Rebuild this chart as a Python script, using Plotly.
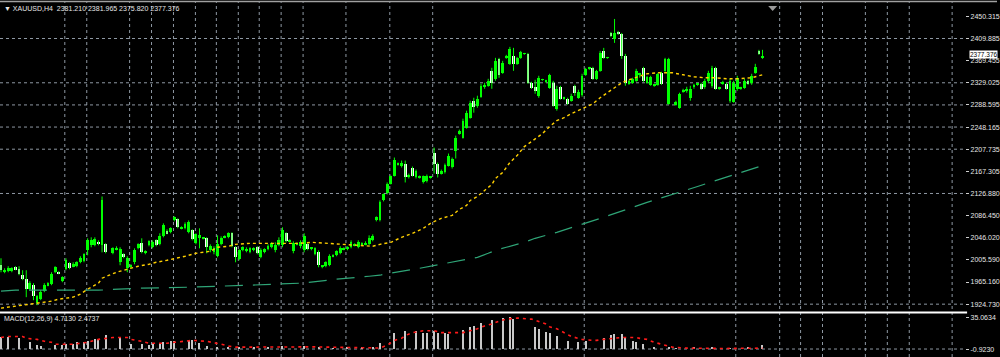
import plotly.graph_objects as go

# ---------------- data ----------------
bar_idx = [i for i in range(212) if i not in (30, 186)]

open_ = [1995.8, 1983.0, 1984.8, 1984.8, 1992.1, 1988.5, 1977.6, 1970.3, 1952.1, 1959.4,
         1926.6, 1933.9, 1948.4, 1959.4, 1961.2, 1983.0, 1983.0, 1966.6, 1988.5, 1999.4,
         1994.0, 1994.0, 2001.2, 2003.1, 2023.1, 2032.2, 2032.2, 2037.7, 2032.2, 2034.0,
         2017.6, 2024.9, 2001.2, 2015.8, 1990.3, 1994.0, 2001.2, 2026.7, 2035.8, 2017.6,
         2032.2, 2028.6, 2041.3, 2034.0, 2048.6, 2057.7, 2055.9, 2077.7, 2079.6, 2063.2,
         2063.2, 2055.9, 2059.5, 2035.8, 2045.0, 2045.0, 2045.0, 2023.1, 2019.4, 2012.2,
         2034.0, 2046.8, 2046.8, 2054.1, 2028.6, 2006.7, 2023.1, 2023.1, 2019.4, 2024.9,
         2028.6, 2010.3, 2019.4, 2024.9, 2028.6, 2023.1, 2032.2, 2032.2, 2054.1, 2039.5,
         2021.3, 2034.0, 2030.4, 2023.1, 2034.0, 2026.7, 2015.8, 2019.4, 1994.0, 1994.0,
         1995.8, 2012.2, 2014.0, 2017.6, 2024.9, 2024.9, 2028.6, 2032.2, 2028.6, 2034.0,
         2034.0, 2034.0, 2041.3, 2077.7, 2077.7, 2114.2, 2126.9, 2145.1, 2159.7, 2179.7,
         2177.9, 2181.5, 2157.9, 2174.3, 2156.1, 2156.1, 2147.0, 2148.8, 2156.1, 2201.6,
         2181.5, 2163.3, 2165.2, 2177.9, 2176.1, 2205.2, 2236.2, 2228.9, 2247.1, 2265.3,
         2296.3, 2287.2, 2303.6, 2321.8, 2323.6, 2350.9, 2336.3, 2372.8, 2347.3, 2374.6,
         2363.7, 2378.2, 2363.7, 2374.6, 2381.9, 2381.9, 2329.1, 2321.8, 2305.4, 2334.5,
         2330.9, 2320.0, 2329.1, 2281.7, 2321.8, 2299.9, 2299.9, 2296.3, 2323.6, 2301.7,
         2307.2, 2343.6, 2354.6, 2356.4, 2336.3, 2350.9, 2387.3, 2374.6, 2420.1, 2409.2,
         2421.9, 2418.3, 2378.2, 2327.2, 2329.1, 2332.7, 2343.6, 2356.4, 2329.1, 2325.4,
         2323.6, 2325.4, 2347.3, 2350.9, 2290.8,
         2289.0, 2283.5, 2312.7, 2314.5, 2301.7, 2321.8, 2325.4, 2327.2, 2321.8, 2332.7,
         2323.6, 2356.4, 2318.1, 2327.2, 2327.2, 2296.3, 2294.5, 2318.1, 2318.1, 2320.0,
         2332.7, 2329.1, 2347.3, 2387.3, 2374.6]

high_ = [2008.5, 1990.3, 1994.0, 1992.1, 1994.0, 1994.0, 1986.7, 1986.7, 1966.6, 1963.0,
         1941.1, 1950.2, 1963.0, 1964.8, 1983.0, 1994.0, 1984.8, 1975.7, 2008.5, 2001.2,
         2001.2, 2003.1, 2012.2, 2017.6, 2045.0, 2046.8, 2046.8, 2041.3, 2121.4, 2035.8,
         2028.6, 2030.4, 2028.6, 2017.6, 2012.2, 1997.6, 2026.7, 2035.8, 2045.0, 2023.1,
         2041.3, 2041.3, 2043.1, 2054.1, 2072.3, 2061.4, 2065.0, 2085.0, 2081.4, 2066.8,
         2074.1, 2077.7, 2061.4, 2054.1, 2063.2, 2046.8, 2046.8, 2034.0, 2030.4, 2050.4,
         2048.6, 2050.4, 2055.9, 2055.9, 2030.4, 2024.9, 2030.4, 2028.6, 2028.6, 2028.6,
         2030.4, 2026.7, 2026.7, 2034.0, 2037.7, 2037.7, 2046.8, 2065.0, 2055.9, 2043.1,
         2039.5, 2037.7, 2041.3, 2054.1, 2035.8, 2028.6, 2028.6, 2023.1, 1995.8, 2003.1,
         2015.8, 2015.8, 2023.1, 2030.4, 2028.6, 2030.4, 2041.3, 2035.8, 2041.3, 2037.7,
         2039.5, 2050.4, 2052.3, 2085.0, 2114.2, 2126.9, 2147.0, 2159.7, 2192.5, 2183.4,
         2187.0, 2187.0, 2163.3, 2176.1, 2170.6, 2159.7, 2159.7, 2161.5, 2157.9, 2210.7,
         2183.4, 2170.6, 2181.5, 2199.8, 2192.5, 2232.5, 2243.5, 2263.5, 2278.1, 2296.3,
         2301.7, 2305.4, 2327.2, 2329.1, 2336.3, 2356.4, 2374.6, 2374.6, 2369.1, 2380.1,
         2394.6, 2392.8, 2376.4, 2387.3, 2383.7, 2383.7, 2330.9, 2334.5, 2341.8, 2336.3,
         2334.5, 2345.5, 2332.7, 2323.6, 2323.6, 2303.6, 2301.7, 2309.0, 2325.4, 2316.3,
         2345.5, 2356.4, 2358.2, 2358.2, 2352.7, 2387.3, 2392.8, 2376.4, 2421.9, 2445.6,
         2423.8, 2420.1, 2381.9, 2334.5, 2338.2, 2354.6, 2347.3, 2358.2, 2341.8, 2341.8,
         2327.2, 2347.3, 2349.1, 2374.6, 2374.6,
         2296.3, 2310.9, 2318.1, 2321.8, 2323.6, 2327.2, 2329.1, 2329.1, 2336.3, 2350.9,
         2360.0, 2358.2, 2321.8, 2332.7, 2329.1, 2336.3, 2332.7, 2341.8, 2321.8, 2336.3,
         2334.5, 2345.5, 2363.7, 2389.2, 2389.2]

low_ = [1983.0, 1981.2, 1983.0, 1983.0, 1986.7, 1977.6, 1968.5, 1937.5, 1950.2, 1932.0,
        1922.9, 1932.0, 1946.6, 1957.5, 1959.4, 1981.2, 1979.4, 1964.8, 1986.7, 1988.5,
        1992.1, 1992.1, 1999.4, 2001.2, 2014.0, 2028.6, 2030.4, 2032.2, 2019.4, 2017.6,
        2015.8, 2023.1, 1995.8, 2008.5, 1983.0, 1990.3, 1997.6, 2024.9, 2017.6, 2015.8,
        2030.4, 2026.7, 2030.4, 2032.2, 2046.8, 2052.3, 2054.1, 2075.9, 2063.2, 2061.4,
        2061.4, 2054.1, 2041.3, 2034.0, 2026.7, 2043.1, 2017.6, 2019.4, 2015.8, 2010.3,
        2032.2, 2045.0, 2045.0, 2028.6, 2001.2, 2004.9, 2021.3, 2019.4, 2017.6, 2021.3,
        2015.8, 2008.5, 2017.6, 2023.1, 2026.7, 2019.4, 2030.4, 2028.6, 2037.7, 2037.7,
        2017.6, 2032.2, 2026.7, 2019.4, 2023.1, 2023.1, 2014.0, 1992.1, 1990.3, 1992.1,
        1994.0, 2010.3, 2012.2, 2015.8, 2023.1, 2023.1, 2026.7, 2030.4, 2026.7, 2032.2,
        2032.2, 2032.2, 2039.5, 2075.9, 2075.9, 2112.4, 2125.1, 2143.3, 2157.9, 2177.9,
        2174.3, 2147.0, 2154.2, 2157.9, 2154.2, 2154.2, 2145.1, 2147.0, 2154.2, 2163.3,
        2156.1, 2161.5, 2163.3, 2176.1, 2172.4, 2190.7, 2234.4, 2227.1, 2245.3, 2263.5,
        2274.4, 2283.5, 2301.7, 2318.1, 2321.8, 2318.1, 2332.7, 2338.2, 2345.5, 2372.8,
        2361.8, 2350.9, 2361.8, 2372.8, 2380.1, 2327.2, 2318.1, 2309.0, 2301.7, 2332.7,
        2329.1, 2318.1, 2285.4, 2278.1, 2298.1, 2298.1, 2289.0, 2294.5, 2305.4, 2299.9,
        2303.6, 2341.8, 2352.7, 2334.5, 2334.5, 2349.1, 2372.8, 2372.8, 2412.8, 2401.9,
        2416.5, 2372.8, 2323.6, 2325.4, 2327.2, 2330.9, 2338.2, 2330.9, 2327.2, 2323.6,
        2321.8, 2323.6, 2325.4, 2349.1, 2289.0,
        2287.2, 2281.7, 2310.9, 2310.9, 2296.3, 2318.1, 2323.6, 2316.3, 2318.1, 2329.1,
        2320.0, 2316.3, 2316.3, 2325.4, 2316.3, 2292.6, 2292.6, 2314.5, 2316.3, 2318.1,
        2325.4, 2325.4, 2345.5, 2380.1, 2372.8]

close_ = [1986.7, 1986.7, 1990.3, 1990.3, 1988.5, 1979.4, 1970.3, 1952.1, 1963.0, 1939.3,
          1939.3, 1946.6, 1959.4, 1963.0, 1979.4, 1992.1, 1981.2, 1973.9, 2004.9, 1990.3,
          1997.6, 2001.2, 2008.5, 2015.8, 2041.3, 2041.3, 2043.1, 2035.8, 2114.2, 2019.4,
          2026.7, 2026.7, 2024.9, 2012.2, 2008.5, 1995.8, 2023.1, 2034.0, 2019.4, 2021.3,
          2039.5, 2037.7, 2032.2, 2048.6, 2068.6, 2054.1, 2063.2, 2083.2, 2065.0, 2065.0,
          2070.5, 2074.1, 2043.1, 2052.3, 2050.4, 2045.4, 2028.6, 2030.4, 2026.7, 2034.0,
          2045.0, 2048.6, 2054.1, 2030.4, 2010.3, 2023.1, 2028.6, 2024.9, 2026.7, 2026.7,
          2017.6, 2023.1, 2024.9, 2030.4, 2035.8, 2032.2, 2041.3, 2059.5, 2039.5, 2041.3,
          2035.8, 2035.8, 2037.7, 2048.6, 2024.9, 2027.1, 2026.7, 1995.8, 1994.4, 2001.2,
          2012.2, 2014.0, 2021.3, 2026.7, 2026.7, 2028.6, 2037.7, 2034.0, 2037.7, 2035.8,
          2035.8, 2045.0, 2048.6, 2083.2, 2110.5, 2125.1, 2145.1, 2157.9, 2188.8, 2181.5,
          2183.4, 2156.1, 2159.7, 2159.7, 2168.8, 2157.9, 2157.9, 2159.7, 2156.5, 2181.5,
          2163.3, 2168.8, 2179.7, 2196.1, 2190.7, 2228.9, 2241.6, 2259.9, 2274.4, 2292.6,
          2285.4, 2299.9, 2323.6, 2325.4, 2332.7, 2329.1, 2369.1, 2343.6, 2365.5, 2378.2,
          2391.0, 2363.7, 2374.6, 2385.5, 2382.3, 2329.1, 2320.0, 2314.5, 2338.2, 2334.9,
          2332.7, 2343.6, 2287.2, 2318.1, 2299.9, 2301.7, 2290.8, 2305.4, 2310.9, 2312.7,
          2341.8, 2354.6, 2356.4, 2336.3, 2350.9, 2383.7, 2374.6, 2375.0, 2414.7, 2420.1,
          2418.3, 2378.2, 2329.1, 2332.7, 2336.3, 2350.9, 2345.5, 2332.7, 2340.0, 2340.0,
          2325.4, 2345.5, 2327.2, 2372.8, 2372.8,
          2294.5, 2309.0, 2316.3, 2318.1, 2318.1, 2323.6, 2327.2, 2318.1, 2332.7, 2347.3,
          2356.4, 2318.1, 2320.0, 2330.9, 2318.1, 2332.7, 2329.1, 2338.2, 2320.0, 2332.7,
          2327.2, 2341.8, 2358.2, 2381.9, 2377.4]

fast_idx = [0, 4, 7, 9, 11, 14, 16, 20, 22, 24, 27, 28, 30, 32, 35, 38, 41, 43, 46, 49,
            51, 54, 58, 60, 63, 65, 69, 74, 83, 86, 90, 96, 98, 103, 105, 108, 111, 114, 117, 119,
            122, 125, 127, 129, 130, 132, 134, 136, 137, 139, 140, 141, 143, 145, 147, 150, 152, 154, 156, 158,
            161, 164, 166, 168, 170, 172, 174, 177, 179, 182, 186, 189, 192, 195, 198, 201, 204, 208, 211]
fast_ma = [1917.5, 1921.1, 1924.8, 1926.6, 1928.4, 1930.2, 1933.9, 1937.5, 1943.0, 1952.1,
           1963.0, 1972.1, 1977.6, 1983.0, 1988.5, 1994.0, 1997.6, 2001.2, 2004.9, 2008.5,
           2012.2, 2017.6, 2021.3, 2028.6, 2030.4, 2034.0, 2035.8, 2035.8, 2035.8, 2037.7,
           2035.8, 2034.0, 2032.2, 2030.4, 2034.0, 2037.7, 2046.8, 2054.1, 2063.2, 2072.3,
           2081.4, 2086.9, 2097.8, 2105.0, 2114.2, 2121.4, 2132.4, 2143.3, 2154.2, 2165.2,
           2174.3, 2183.4, 2196.1, 2212.5, 2221.6, 2236.2, 2248.9, 2259.9, 2265.3, 2272.6,
           2281.7, 2290.8, 2301.7, 2310.9, 2320.0, 2329.1, 2334.5, 2341.8, 2345.5, 2347.3,
           2347.3, 2343.6, 2340.0, 2338.2, 2338.2, 2336.3, 2336.3, 2338.2, 2343.6]

slow_idx = [0, 4, 11, 16, 27, 38, 52, 69, 83, 93, 97, 101, 102, 105, 106, 116, 130, 132, 135, 137,
            140, 143, 145, 148, 151, 154, 166, 179, 193, 211]
slow_ma = [1948.4, 1950.2, 1950.2, 1950.2, 1950.2, 1953.9, 1955.7, 1959.4, 1963.0, 1970.3,
           1972.1, 1973.9, 1975.7, 1977.6, 1979.4, 1990.3, 2006.7, 2010.3, 2017.6, 2023.1,
           2028.6, 2034.0, 2037.7, 2045.0, 2050.4, 2055.9, 2081.4, 2110.5, 2139.7, 2177.9]

macd_idx = [0, 2, 5, 8, 10, 11, 15, 17, 18, 20, 21, 23, 24, 26, 27, 29, 33, 36, 39, 41,
            42, 44, 45, 47, 48, 52, 53, 55, 57, 60, 63,
            66, 70, 74, 78, 84, 88, 92, 96, 100, 103,
            105, 109, 112, 115, 117, 118, 120, 121, 123, 124, 128, 130, 131, 133, 136, 139, 141, 142, 148, 149,
            151, 152, 154, 157, 160, 162, 167, 169, 170, 172, 173, 175, 176, 178, 181, 185,
            187, 192, 197, 202, 207, 211]
macd_hist = [12.7, 12.7, 11.7, 7.4, 4.2, 3.2, 4.2, 4.2, 5.3, 5.3, 7.4, 7.4, 8.5, 10.6, 10.6, 14.8, 11.7, 5.3, 5.3, 4.2,
             6.4, 6.4, 7.4, 8.5, 8.5, 9.5, 9.5, 6.4, 3.2, 2.1, 2.1,
             2.5, 1.5, 2.0, 3.5, 3.0, 1.0, 0.8, 1.5, 2.0, 2.5,
             6.4, 17.0, 20.1, 20.1, 18.0, 18.0, 20.1, 18.0, 17.0, 15.9, 21.2, 24.4, 25.4, 28.6, 31.8, 33.9, 35.0, 32.9, 24.4, 22.3,
             19.1, 17.0, 13.8, 8.5, 7.4, 8.5, 11.7, 14.8, 15.9, 15.9, 12.7, 8.5, 7.4, 5.3, 2.1, 1.1,
             0.5, 1.0, 1.5, 0.8, 1.8, 4.2]

sig_idx = [0, 2, 6, 7, 10, 12, 14, 15, 20, 23, 24, 27, 31, 35, 36, 39, 41, 42, 46, 48,
           51, 53, 57, 60, 61, 63, 65, 67, 70, 78, 86, 94, 100, 105, 107, 109, 111, 112, 114, 117,
           120, 122, 125, 128, 130, 132, 134, 136, 138, 140, 143, 144, 146, 147, 151, 152, 154, 155, 157, 158,
           160, 161, 164, 165, 167, 170, 172, 176, 177, 179, 181, 183, 186, 190, 200, 211]
macd_signal = [12.7, 13.8, 13.8, 11.7, 10.6, 8.5, 7.4, 5.3, 5.3, 6.4, 7.4, 10.6, 12.7, 12.7, 10.6, 8.5, 6.4, 6.4, 6.4, 7.4,
               8.5, 9.5, 8.5, 6.4, 5.3, 3.2, 2.1, 2.1, 2.0, 2.2, 2.4, 1.8, 1.5, 1.1, 4.2, 9.5, 11.7, 14.8, 18.0, 20.1,
               20.1, 18.0, 18.0, 18.0, 20.1, 22.3, 25.4, 27.6, 30.7, 32.9, 33.9, 33.9, 32.9, 32.9, 27.6, 24.4, 22.3, 20.1, 15.9, 13.8,
               11.7, 10.6, 9.5, 9.5, 10.6, 11.7, 12.7, 12.7, 11.7, 10.6, 7.4, 5.3, 2.1, 1.0, 0.6, 1.0]

price_ticks = [2450.315, 2409.885, 2369.455, 2329.025, 2288.595, 2248.165, 2207.735,
               2167.305, 2126.880, 2086.450, 2046.020, 2005.590, 1965.160, 1924.730]
grid_prices = [2409.885, 2329.025, 2288.595, 2248.165, 2207.735, 2126.880, 1924.730]
grid_bars = [17.68, 23.76, 35.64, 41.71, 47.79, 53.87, 59.67, 65.75, 71.55, 77.62, 83.70,
             95.58, 107.73, 119.61, 161.60, 203.59, 215.75, 221.55, 227.62, 239.50, 245.58,
             251.66, 263.54]
macd_ticks = [35.0634, -0.9230]
last_price = 2377.376
title_text = "▼ XAUUSD,H4  2381.210 2381.965 2375.820 2377.376"
macd_text = "MACD(12,26,9) 4.7130 2.4737"

assert len(bar_idx) == len(open_) == len(high_) == len(low_) == len(close_)
assert len(fast_idx) == len(fast_ma) and len(slow_idx) == len(slow_ma)
assert len(macd_idx) == len(macd_hist) and len(sig_idx) == len(macd_signal)

# ---------------- figure ----------------
GREEN = "#00FF00"
GRID = "#8e98a3"
FONT = "Liberation Sans"

fig = go.Figure()

# wicks
wx, wy = [], []
for i, h, l in zip(bar_idx, high_, low_):
    wx += [i, i, None]
    wy += [l, h, None]
fig.add_trace(go.Scatter(x=wx, y=wy, mode="lines", line=dict(color=GREEN, width=1),
                         hoverinfo="skip", showlegend=False, xaxis="x", yaxis="y"))

# bodies
base, height, colors = [], [], []
for o, c in zip(open_, close_):
    lo, hi = min(o, c), max(o, c)
    base.append(lo)
    height.append(max(hi - lo, 1.0))
    colors.append(GREEN if c >= o else "#FFFFFF")
fig.add_trace(go.Bar(x=bar_idx, y=height, base=base, width=0.78,
                     marker=dict(color=colors, line=dict(width=0)),
                     hoverinfo="skip", showlegend=False, xaxis="x", yaxis="y"))

# moving averages
fig.add_trace(go.Scatter(x=slow_idx, y=slow_ma, mode="lines",
                         line=dict(color="#2fa577", width=1.2, dash="18px,10px"),
                         hoverinfo="skip", showlegend=False, xaxis="x", yaxis="y"))
fig.add_trace(go.Scatter(x=fast_idx, y=fast_ma, mode="lines",
                         line=dict(color="#FFD000", width=1.4, dash="3px,3px"),
                         hoverinfo="skip", showlegend=False, xaxis="x", yaxis="y"))

# MACD
fig.add_trace(go.Bar(x=macd_idx, y=macd_hist, width=0.32,
                     marker=dict(color="#C8C8C8", line=dict(width=0)),
                     hoverinfo="skip", showlegend=False, xaxis="x2", yaxis="y2"))
fig.add_trace(go.Scatter(x=sig_idx, y=macd_signal, mode="lines",
                         line=dict(color="#FF1A1A", width=1.6, dash="3px,4px"),
                         hoverinfo="skip", showlegend=False, xaxis="x2", yaxis="y2"))

XR = [-0.276, 267.13]
XD = [0, 0.968]
shapes = []
for g in grid_bars:
    shapes.append(dict(type="line", xref="x", yref="paper", x0=g, x1=g, y0=0.0, y1=0.997,
                       line=dict(color=GRID, width=1, dash="dot"), layer="below"))
for p in grid_prices:
    shapes.append(dict(type="line", xref="paper", yref="y", x0=0, x1=0.968, y0=p, y1=p,
                       line=dict(color=GRID, width=1, dash="dot"), layer="below"))
shapes.append(dict(type="line", xref="paper", yref="y2", x0=0, x1=0.968, y0=0, y1=0,
                   line=dict(color=GRID, width=1, dash="dot"), layer="below"))
shapes.append(dict(type="line", xref="paper", yref="paper", x0=0, x1=0.970,
                   y0=1 - 312.5 / 357, y1=1 - 312.5 / 357, line=dict(color="#FFFFFF", width=2)))
shapes.append(dict(type="line", xref="paper", yref="paper", x0=0, x1=1, y0=0.9988, y1=0.9988,
                   line=dict(color="#A0A0A0", width=1.5)))
shapes.append(dict(type="path", xref="paper", yref="paper",
                   path="M 0.7705 0.9860 L 0.7795 0.9860 L 0.775 0.9720 Z",
                   fillcolor="#9a9a9a", line=dict(width=0)))

annotations = [
    dict(text=title_text, xref="paper", yref="paper", x=0.002, y=1 - 7.5 / 357,
         xanchor="left", yanchor="middle", showarrow=False,
         font=dict(family=FONT, size=7, color="#E6E6E6")),
    dict(text=macd_text, xref="paper", yref="paper", x=0.002, y=1 - 318.5 / 357,
         xanchor="left", yanchor="middle", showarrow=False,
         font=dict(family=FONT, size=7, color="#E6E6E6")),
    dict(text=f"{last_price:.3f}", xref="paper", yref="y", x=0.9715, y=last_price + 2.5,
         xanchor="left", yanchor="middle", showarrow=False, bgcolor="#FFFFFF",
         borderpad=0, font=dict(family=FONT, size=6.5, color="#000000")),
]

fig.update_layout(
    width=1000, height=357,
    margin=dict(l=0, r=0, t=0, b=0),
    paper_bgcolor="#000000", plot_bgcolor="#000000",
    barmode="overlay", bargap=0,
    showlegend=False,
    xaxis=dict(domain=XD, range=XR, showgrid=False, zeroline=False, showticklabels=False,
               ticks="", showline=False, anchor="y"),
    xaxis2=dict(domain=XD, range=XR, showgrid=False, zeroline=False, showticklabels=False,
                ticks="", showline=False, anchor="y2", matches="x"),
    yaxis=dict(domain=[1 - 311 / 357, 1], range=[1912.0, 2478.4], anchor="x", side="right",
               showgrid=False, zeroline=False, showline=False,
               tickvals=price_ticks, ticktext=[f"{v:.3f}" for v in price_ticks],
               ticks="outside", ticklen=3, tickcolor="#CFCFCF", tickwidth=1,
               tickfont=dict(family=FONT, size=7, color="#E6E6E6")),
    yaxis2=dict(domain=[1 - 356 / 357, 1 - 314 / 357], range=[-7.67, 38.35], anchor="x2",
                side="right", showgrid=False, zeroline=False, showline=False,
                tickvals=macd_ticks, ticktext=[f"{v:.4f}" for v in macd_ticks],
                ticks="outside", ticklen=3, tickcolor="#CFCFCF", tickwidth=1,
                tickfont=dict(family=FONT, size=7, color="#E6E6E6")),
    shapes=shapes,
    annotations=annotations,
)

fig.write_html("out.html", config={"displayModeBar": False},
               post_script="document.body.style.margin='0';document.body.style.background='#000';")
